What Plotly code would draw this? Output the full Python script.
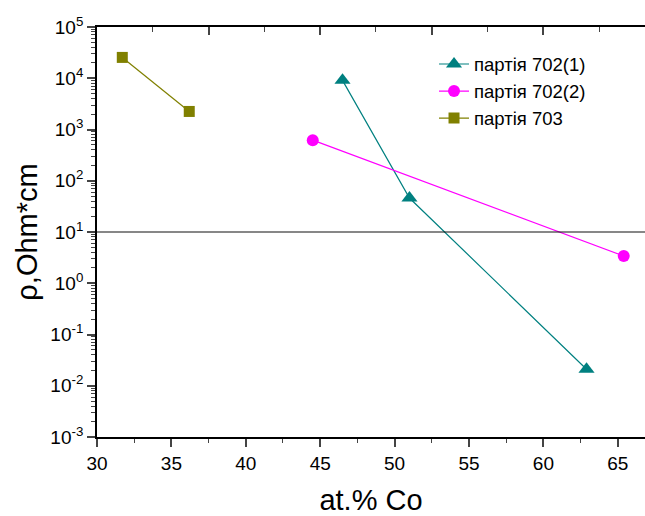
import numpy as np
import plotly.graph_objects as go

# ---- data ----
x_702_1 = [46.5, 51.0, 62.9]
y_702_1 = [9.1e3, 46, 0.021]
x_702_2 = [44.5, 65.4]
y_702_2 = [620, 3.4]
x_703 = [31.7, 36.2]
y_703 = [2.55e4, 2.25e3]
threshold = 10
names = ["партія 702(1)", "партія 702(2)", "партія 703"]
x_range = [30, 66.83]
y_exps = list(range(-3, 6))
y_tickvals = [10.0 ** e for e in y_exps]
y_ticktext = [f"10<sup>{e}</sup>" for e in y_exps]
y_minor = [k * 10.0 ** e for e in range(-3, 5) for k in range(2, 10)]
x_ticks = [30, 35, 40, 45, 50, 55, 60, 65]

FONT = "Arial, Liberation Sans, sans-serif"

fig = go.Figure()
fig.add_trace(go.Scatter(x=x_702_1, y=y_702_1, name=names[0], mode="lines+markers",
                         line=dict(color="#008080", width=1.2),
                         marker=dict(symbol="triangle-up", size=14, color="#008080")))
fig.add_trace(go.Scatter(x=x_702_2, y=y_702_2, name=names[1], mode="lines+markers",
                         line=dict(color="#FF00FF", width=1.2),
                         marker=dict(symbol="circle", size=12, color="#FF00FF")))
fig.add_trace(go.Scatter(x=x_703, y=y_703, name=names[2], mode="lines+markers",
                         line=dict(color="#808000", width=1.2),
                         marker=dict(symbol="square", size=11, color="#808000")))
# reference line
fig.add_trace(go.Scatter(x=x_range, y=[threshold, threshold], mode="lines",
                         line=dict(color="#111111", width=1.2), showlegend=False,
                         hoverinfo="skip"))
# dummy for top axis
fig.add_trace(go.Scatter(x=x_range, y=[threshold, threshold], xaxis="x2", mode="lines",
                         line=dict(width=0), showlegend=False, hoverinfo="skip",
                         opacity=0))

fig.update_layout(
    width=645, height=516,
    margin=dict(l=97, r=0, t=27, b=79),
    paper_bgcolor="white", plot_bgcolor="white",
    font=dict(family=FONT, color="black", size=19),
    showlegend=True,
    legend=dict(x=0.615, y=0.955, xanchor="left", yanchor="top",
                bgcolor="rgba(0,0,0,0)", font=dict(size=18.5, family=FONT),
                tracegroupgap=0, itemwidth=30),
    xaxis=dict(range=x_range, tickvals=x_ticks, ticks="outside", ticklen=8, tickwidth=1.5,
               showline=True, linecolor="black", linewidth=1.8, showgrid=False, zeroline=False,
               tickfont=dict(size=19),
               minor=dict(dtick=2.5, tick0=30, ticks="outside", ticklen=4, tickwidth=1.2, showgrid=False),
               title=dict(text="at.% Co", font=dict(size=29), standoff=19)),
    xaxis2=dict(range=x_range, overlaying="x", side="top", anchor="y",
                tickmode="linear", tick0=30, dtick=7.5, ticks="inside", ticklen=8, tickwidth=1.5,
                showticklabels=False, showline=True, linecolor="black", linewidth=1.8,
                showgrid=False, zeroline=False,
                minor=dict(dtick=3.75, tick0=30, ticks="inside", ticklen=5, tickwidth=1.2, showgrid=False)),
    yaxis=dict(type="log", range=[-3, 5], tickvals=y_tickvals, ticktext=y_ticktext,
               ticks="outside", ticklen=8, tickwidth=1.5, showline=True, linecolor="black",
               linewidth=1.8, showgrid=False, zeroline=False, tickfont=dict(size=19),
               minor=dict(tickvals=y_minor, ticks="outside", ticklen=4, tickwidth=1, showgrid=False),
               title=dict(text="ρ,Ohm*cm", font=dict(size=29), standoff=4)),
)

fig.write_html("out.html")
